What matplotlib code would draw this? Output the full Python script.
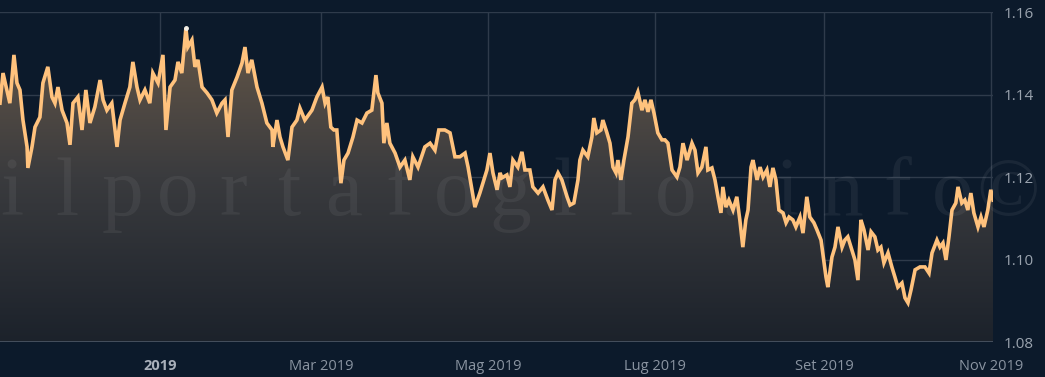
import numpy as np
import matplotlib
matplotlib.use('Agg')
import matplotlib.pyplot as plt
import matplotlib.dates as mdates
from matplotlib.colors import LinearSegmentedColormap
from matplotlib.patches import Polygon

# giorni dal 1 gennaio 2019 e cambio EUR/USD
days = [-58.5, -57.4, -54.9, -53.4, -52.3, -51.2, -50.1, -48.6, -48.3, -46.8,
        -45.7, -43.9, -42.8, -41.0, -39.5, -38.4, -37.3, -35.8, -34.0, -32.9,
        -31.8, -30.0, -28.5, -27.1, -25.6, -23.8, -21.9, -20.8, -19.4, -17.6,
        -15.7, -14.6, -12.8, -11.0, -9.9, -8.4, -7.3, -5.5, -3.7, -2.6,
        -0.7, 1.1, 2.2, 3.7, 5.5, 6.6, 8.0, 9.5, 10.2, 11.7,
        12.8, 13.9, 15.4, 17.2, 19.0, 20.8, 22.7, 23.8, 24.9, 26.3,
        28.2, 30.0, 31.1, 32.2, 33.6, 35.5, 37.3, 39.1, 41.0, 41.3,
        42.8, 43.9, 45.0, 46.8, 48.3, 50.1, 51.2, 53.0, 55.6, 57.4,
        59.3, 60.4, 61.4, 62.5, 63.6, 64.7, 66.2, 67.3, 68.8, 70.6,
        72.1, 73.9, 75.7, 77.5, 79.0, 79.7, 81.2, 81.9, 83.0, 84.1,
        86.0, 87.8, 89.6, 91.4, 92.5, 94.4, 96.9, 98.8, 100.6, 102.0,
        104.2, 106.1, 107.9, 109.7, 111.6, 112.7, 114.1, 115.2, 117.0, 118.5,
        119.6, 120.7, 121.8, 123.3, 124.4, 125.1, 126.9, 128.0, 129.1, 130.9,
        132.4, 133.5, 135.3, 136.4, 138.3, 140.1, 141.9, 143.4, 144.5, 145.6,
        147.0, 148.9, 150.0, 151.4, 152.9, 153.6, 154.7, 156.5, 158.0, 158.7,
        159.8, 161.3, 162.0, 163.5, 164.6, 165.7, 166.8, 167.5, 168.6, 169.7,
        171.2, 172.6, 173.7, 174.8, 176.3, 177.4, 178.5, 179.6, 180.7, 182.1,
        183.6, 184.7, 185.8, 187.3, 189.1, 190.2, 191.3, 192.8, 194.6, 195.7,
        196.8, 198.2, 199.7, 200.4, 201.9, 203.0, 204.1, 205.2, 205.9, 207.0,
        208.1, 209.6, 211.0, 212.1, 213.2, 214.3, 215.1, 216.2, 216.9, 218.4,
        219.5, 220.6, 222.0, 223.1, 224.2, 225.3, 226.4, 227.9, 229.0, 230.1,
        231.5, 232.6, 234.1, 235.2, 236.6, 237.7, 239.2, 240.3, 241.8, 242.9,
        243.6, 244.3, 245.8, 246.9, 248.0, 249.5, 250.5, 251.6, 253.1, 254.2,
        255.3, 256.4, 257.5, 259.0, 260.1, 261.5, 262.6, 263.7, 264.8, 266.3,
        267.7, 268.8, 269.9, 271.4, 272.5, 273.6, 274.7, 276.2, 278.0, 279.8,
        281.3, 282.4, 284.2, 285.3, 286.4, 287.5, 288.6, 289.7, 291.1, 291.9,
        293.3, 294.4, 295.5, 296.6, 297.7, 299.2, 300.3, 301.4, 302.8, 303.9,
        304.7]
prices = [1.1379, 1.1452, 1.1379, 1.1496, 1.1428, 1.1411, 1.1338, 1.1273, 1.1222, 1.1273,
          1.1321, 1.1345, 1.1428, 1.1467, 1.1394, 1.1379, 1.1418, 1.1362, 1.1331, 1.1278,
          1.1379, 1.1394, 1.1314, 1.1411, 1.1331, 1.1370, 1.1435, 1.1387, 1.1362, 1.1379,
          1.1273, 1.1338, 1.1379, 1.1418, 1.1479, 1.1418, 1.1387, 1.1411, 1.1379, 1.1452,
          1.1428, 1.1496, 1.1314, 1.1418, 1.1435, 1.1479, 1.1452, 1.1561, 1.1515, 1.1532,
          1.1467, 1.1484, 1.1418, 1.1404, 1.1387, 1.1355, 1.1379, 1.1387, 1.1297, 1.1411,
          1.1442, 1.1476, 1.1515, 1.1452, 1.1484, 1.1418, 1.1379, 1.1331, 1.1314, 1.1273,
          1.1338, 1.1297, 1.1273, 1.1241, 1.1321, 1.1338, 1.1367, 1.1338, 1.1362, 1.1394,
          1.1418, 1.1379, 1.1394, 1.1321, 1.1314, 1.1314, 1.1185, 1.1241, 1.1258, 1.1297,
          1.1338, 1.1331, 1.1355, 1.1362, 1.1447, 1.1404, 1.1379, 1.1282, 1.1331, 1.1282,
          1.1258, 1.1224, 1.1241, 1.1193, 1.1249, 1.1224, 1.1273, 1.1282, 1.1265, 1.1314,
          1.1314, 1.1307, 1.1249, 1.1249, 1.1258, 1.1224, 1.1169, 1.1127, 1.1161, 1.1193,
          1.1217, 1.1258, 1.1210, 1.1169, 1.1210, 1.1198, 1.1205, 1.1176, 1.1241, 1.1224,
          1.1261, 1.1217, 1.1217, 1.1176, 1.1161, 1.1176, 1.1144, 1.1120, 1.1193, 1.1210,
          1.1193, 1.1152, 1.1132, 1.1137, 1.1193, 1.1241, 1.1265, 1.1249, 1.1297, 1.1343,
          1.1307, 1.1314, 1.1338, 1.1307, 1.1282, 1.1224, 1.1210, 1.1241, 1.1193, 1.1241,
          1.1297, 1.1379, 1.1387, 1.1406, 1.1362, 1.1387, 1.1358, 1.1387, 1.1355, 1.1307,
          1.1290, 1.1290, 1.1282, 1.1217, 1.1200, 1.1224, 1.1282, 1.1241, 1.1282, 1.1265,
          1.1210, 1.1224, 1.1273, 1.1217, 1.1222, 1.1193, 1.1152, 1.1113, 1.1176, 1.1127,
          1.1144, 1.1120, 1.1152, 1.1096, 1.1030, 1.1096, 1.1120, 1.1224, 1.1241, 1.1193,
          1.1224, 1.1200, 1.1217, 1.1176, 1.1222, 1.1193, 1.1120, 1.1113, 1.1089, 1.1103,
          1.1096, 1.1079, 1.1103, 1.1064, 1.1152, 1.1103, 1.1089, 1.1072, 1.1047, 1.0992,
          1.0958, 1.0933, 1.1006, 1.1030, 1.1079, 1.1030, 1.1047, 1.1055, 1.1023, 1.0999,
          1.0950, 1.1096, 1.1072, 1.1023, 1.1067, 1.1055, 1.1023, 1.1030, 1.0992, 1.1016,
          1.0982, 1.0958, 1.0933, 1.0943, 1.0907, 1.0895, 1.0926, 1.0975, 1.0982, 1.0982,
          1.0967, 1.1016, 1.1047, 1.1030, 1.1040, 1.0999, 1.1055, 1.1120, 1.1137, 1.1176,
          1.1137, 1.1144, 1.1120, 1.1161, 1.1113, 1.1079, 1.1103, 1.1079, 1.1120, 1.1169,
          1.1144]

tick_dates = ['2019-01-01', '2019-03-01', '2019-05-01', '2019-07-01', '2019-09-01', '2019-11-01']
tick_labels = ['2019', 'Mar 2019', 'Mag 2019', 'Lug 2019', 'Set 2019', 'Nov 2019']
y_ticks = [1.08, 1.10, 1.12, 1.14, 1.16]
watermark = 'ilportafoglio.info©'

bg = '#0c1a2b'
line_col = '#ffc27d'
grid_col = '#2f3b4b'

t0 = np.datetime64('2019-01-01T00:00')
dates = t0 + (np.array(days) * 24 * 60).round().astype('timedelta64[m]')
x = mdates.date2num(dates)
y = np.array(prices)

fig = plt.figure(figsize=(10.45, 3.77), dpi=100, facecolor=bg)
ax = fig.add_axes([0, 35 / 377, 993 / 1045, 330 / 377])
ax.set_facecolor(bg)

# area sotto la linea con sfumatura verticale
grad = np.linspace(1, 0, 256).reshape(-1, 1)
cmap = LinearSegmentedColormap.from_list('area', ['#1c222b', '#3a3b3e', '#6a5a49'])
im = ax.imshow(grad, extent=[x[0], x[-1], 1.08, 1.16], aspect='auto', cmap=cmap,
               interpolation='bicubic', zorder=1)
verts = [(x[0], 1.08)] + list(zip(x, y)) + [(x[-1], 1.08)]
area = Polygon(verts, closed=True, facecolor='none', edgecolor='none')
ax.add_patch(area)
im.set_clip_path(area)

ax.plot(x, y, color=line_col, lw=2.6, zorder=3, solid_joinstyle='miter')
imax = np.argmax(y)
ax.plot(x[imax], y[imax], marker='o', ms=2.5, color='#f4efe6', zorder=4)

ax.set_xlim(x[0], x[-1])
ax.set_ylim(1.08, 1.16)

ax.set_yticks(y_ticks)
ax.set_yticklabels(['%.2f' % v for v in y_ticks])
ax.yaxis.tick_right()
ax.set_xticks(mdates.date2num(np.array(tick_dates, dtype='datetime64[D]')))
ax.set_xticklabels(tick_labels)
ax.tick_params(axis='y', length=0, pad=8, labelsize=11, labelcolor='#9aa3ae')
ax.tick_params(axis='x', length=0, pad=12, labelsize=10.5, labelcolor='#8a94a1')
for lab in ax.get_yticklabels() + ax.get_xticklabels():
    lab.set_family('Open Sans')
ax.get_xticklabels()[0].set_fontweight('bold')
ax.get_xticklabels()[0].set_color('#a9b0ba')

ax.grid(True, color=grid_col, lw=1, zorder=0)
ax.set_axisbelow(True)
for s in ax.spines.values():
    s.set_visible(False)
ax.axhline(1.08, color='#4b5665', lw=1.2, zorder=2)

# scritta in filigrana
xs = np.linspace(12, 1008, len(watermark)) / 1045
for px, ch in zip(xs, watermark):
    fig.text(px, 1 - 195 / 377, ch, ha='center', va='center', fontsize=60,
             family='Liberation Serif', color='white', alpha=0.06, zorder=5)

fig.savefig('out.png', dpi=100, facecolor=bg)
